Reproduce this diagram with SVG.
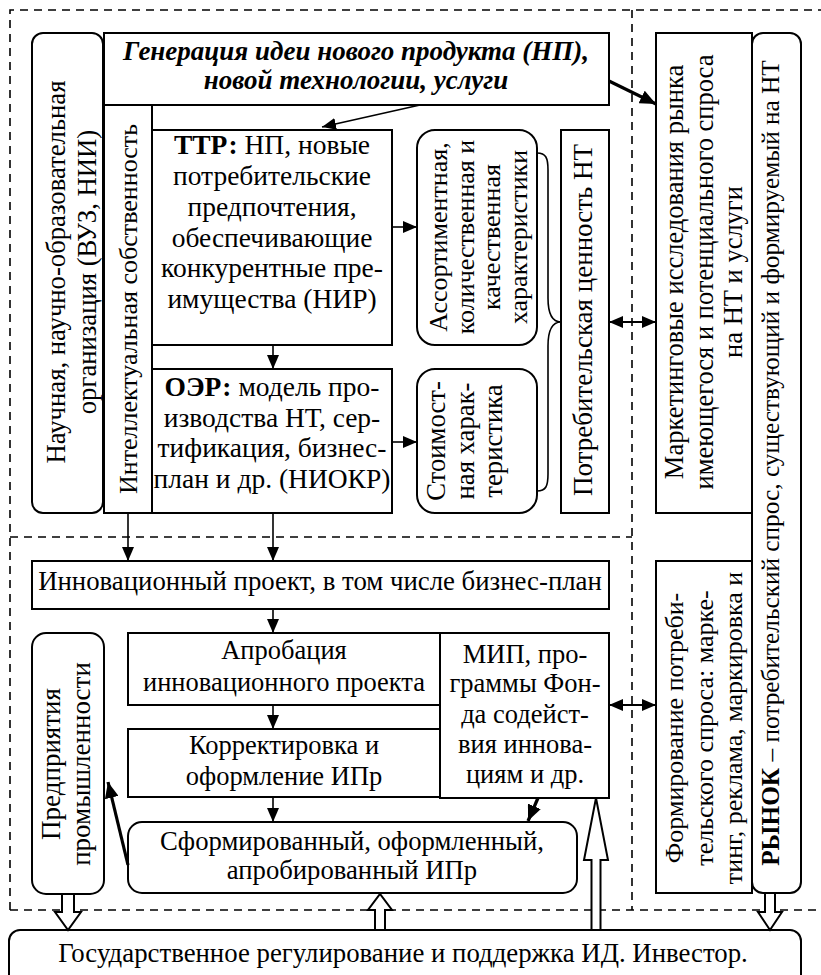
<svg xmlns="http://www.w3.org/2000/svg" width="821" height="975" viewBox="0 0 821 975">
<defs>
<style>
.b{fill:#fff;stroke:#000;stroke-width:2}
.d{fill:none;stroke:#000;stroke-width:1.6;stroke-dasharray:8,6}
.c{text-anchor:middle}
.ln{stroke:#000;stroke-width:1.6;fill:none}
.th{stroke:#000;stroke-width:3.2;fill:none}
.h{fill:#fff;stroke:#000;stroke-width:2;stroke-linejoin:miter}
</style>
<marker id="a" viewBox="0 0 14 12" refX="14" refY="6" markerWidth="14" markerHeight="12" markerUnits="userSpaceOnUse" orient="auto-start-reverse"><path d="M0,0L14,6L0,12z" fill="#000"/></marker>
<marker id="ak" viewBox="0 0 16 14" refX="16" refY="7" markerWidth="16" markerHeight="14" markerUnits="userSpaceOnUse" orient="auto"><path d="M0,0L16,7L0,14z" fill="#000"/></marker>
</defs>
<rect width="821" height="975" fill="#fff"/>
<g id="frames">
<path class="d" d="M10,910V10H821"/>
<path class="d" d="M10,910H821"/>
<path class="d" d="M632,10V910"/>
<path class="d" d="M10,537H632"/>
</g>
<g font-family="Liberation Serif" font-size="26.7" fill="#000">
<g id="n-nauch"><rect class="b" x="32" y="33" width="71" height="480" rx="11"/>
<text class="c" font-family="Liberation Serif" transform="translate(65,272) rotate(-90)"><tspan x="0" y="0">Научная, научно-образовательная</tspan><tspan x="0" y="31">организация (ВУЗ, НИИ)</tspan></text></g>
<g id="n-gen"><rect class="b" x="104" y="33" width="505" height="72"/>
<text class="c" font-family="Liberation Serif" font-weight="bold" font-style="italic" font-size="27" x="356" y="60">Генерация идеи нового продукта (НП),</text>
<text class="c" font-family="Liberation Serif" font-weight="bold" font-style="italic" font-size="27" x="356" y="89">новой технологии, услуги</text></g>
<g id="n-intel"><rect class="b" x="104" y="105" width="48" height="408"/>
<text class="c" font-family="Liberation Serif" font-size="26" transform="translate(137,309) rotate(-90)">Интеллектуальная собственность</text></g>
<g id="n-ttr"><rect class="b" x="152" y="130" width="240" height="215"/>
<text class="c" font-family="Liberation Serif" font-size="27.5"><tspan x="272" y="154"><tspan font-weight="bold">ТТР:</tspan> НП, новые</tspan><tspan x="272" y="185">потребительские</tspan><tspan x="272" y="216">предпочтения,</tspan><tspan x="272" y="247">обеспечивающие</tspan><tspan x="272" y="277">конкурентные пре-</tspan><tspan x="272" y="308">имущества (НИР)</tspan></text></g>
<g id="n-oer"><rect class="b" x="152" y="369" width="240" height="144"/>
<text class="c" font-family="Liberation Serif" font-size="27.5"><tspan x="272" y="396"><tspan font-weight="bold">ОЭР:</tspan> модель про-</tspan><tspan x="272" y="427">изводства НТ, сер-</tspan><tspan x="272" y="457">тификация, бизнес-</tspan><tspan x="272" y="488">план и др. (НИОКР)</tspan></text></g>
<g id="n-assort"><rect class="b" x="417" y="130" width="120" height="215" rx="18"/>
<text class="c" font-family="Liberation Serif" font-size="26" transform="translate(447,237) rotate(-90)"><tspan x="0" y="0">Ассортиментная,</tspan><tspan x="0" y="26.5">количественная и</tspan><tspan x="0" y="53">качественная</tspan><tspan x="0" y="79.5">характеристики</tspan></text></g>
<g id="n-stoim"><rect class="b" x="417" y="369" width="120" height="144" rx="18"/>
<text class="c" font-family="Liberation Serif" transform="translate(445,441) rotate(-90)"><tspan x="0" y="0">Стоимост-</tspan><tspan x="0" y="28.5">ная харак-</tspan><tspan x="0" y="57">теристика</tspan></text></g>
<g id="n-potreb"><rect class="b" x="561" y="130" width="48" height="383"/>
<text class="c" font-family="Liberation Serif" font-size="27" transform="translate(592,320) rotate(-90)">Потребительская ценность НТ</text></g>
<g id="n-market"><rect class="b" x="656" y="33" width="96" height="480"/>
<text class="c" font-family="Liberation Serif" font-size="26.5" transform="translate(683,272) rotate(-90)"><tspan x="0" y="0">Маркетинговые исследования рынка</tspan><tspan x="0" y="29.5">имеющегося и потенциального спроса</tspan><tspan x="0" y="59">на НТ и услуги</tspan></text></g>
<g id="n-rynok"><rect class="b" x="752" y="33" width="49" height="860" rx="11"/>
<text class="c" font-family="Liberation Serif" font-size="25.3" transform="translate(779,463) rotate(-90)"><tspan font-weight="bold">РЫНОК</tspan> – потребительский спрос, существующий и формируемый на НТ</text></g>
<g id="n-form"><rect class="b" x="656" y="561" width="96" height="332"/>
<text class="c" font-family="Liberation Serif" font-size="26" transform="translate(683,728) rotate(-90)"><tspan x="0" y="0">Формирование потреби-</tspan><tspan x="0" y="29.5">тельского спроса: марке-</tspan><tspan x="0" y="59">тинг, реклама, маркировка и</tspan></text></g>
<g id="n-innov"><rect class="b" x="32" y="561" width="577" height="48"/>
<text class="c" font-family="Liberation Serif" font-size="26.8" x="320" y="590">Инновационный проект, в том числе бизнес-план</text></g>
<g id="n-aprob"><rect class="b" x="128" y="633" width="312" height="72"/>
<text class="c" font-family="Liberation Serif" font-size="26.5"><tspan x="284" y="659">Апробация</tspan><tspan x="284" y="691">инновационного проекта</tspan></text></g>
<g id="n-korr"><rect class="b" x="128" y="729" width="312" height="68"/>
<text class="c" font-family="Liberation Serif" font-size="26.5"><tspan x="284" y="754">Корректировка и</tspan><tspan x="284" y="785">оформление ИПр</tspan></text></g>
<g id="n-mip"><rect class="b" x="440" y="633" width="169" height="165"/>
<text class="c" font-family="Liberation Serif" font-size="26.5"><tspan x="525" y="663">МИП, про-</tspan><tspan x="525" y="692">граммы Фон-</tspan><tspan x="525" y="723">да содейст-</tspan><tspan x="525" y="753">вия иннова-</tspan><tspan x="525" y="783">циям и др.</tspan></text></g>
<g id="n-sform"><rect class="b" x="128" y="822" width="449" height="71" rx="14"/>
<text class="c" font-family="Liberation Serif"><tspan x="352" y="850">Сформированный, оформленный,</tspan><tspan x="352" y="879">апробированный ИПр</tspan></text></g>
<g id="n-predpr"><rect class="b" x="32" y="633" width="72" height="261" rx="14"/>
<text class="c" font-family="Liberation Serif" font-size="27" transform="translate(60,764) rotate(-90)"><tspan x="0" y="0">Предприятия</tspan><tspan x="0" y="30">промышленности</tspan></text></g>
<g id="n-gos"><rect class="b" x="9" y="930" width="792" height="60" rx="11"/>
<text class="c" font-family="Liberation Serif" font-size="26.8" x="403" y="962">Государственное регулирование и поддержка ИД. Инвестор.</text></g>
</g>
<g id="connectors">
<path class="ln" d="M420,105L322,127" marker-end="url(#a)"/>
<path class="th" d="M609,81L656,104" marker-end="url(#ak)"/>
<path class="ln" d="M392,227H417" marker-end="url(#a)"/>
<path class="ln" d="M392,442H417" marker-end="url(#a)"/>
<path class="ln" d="M273,345V369" marker-end="url(#a)"/>
<path class="ln" d="M128,513V561" marker-end="url(#a)"/>
<path class="ln" d="M273,513V561" marker-end="url(#a)"/>
<path class="ln" d="M273,609V633" marker-end="url(#a)"/>
<path class="ln" d="M273,705V729" marker-end="url(#a)"/>
<path class="ln" d="M273,797V822" marker-end="url(#a)"/>
<path class="ln" style="stroke-width:2.2" d="M609,322H656" marker-start="url(#a)" marker-end="url(#a)"/>
<path class="ln" style="stroke-width:2.2" d="M609,705H656" marker-start="url(#a)" marker-end="url(#a)"/>
<path class="th" d="M128,865L108,782" marker-end="url(#ak)"/>
<path class="th" d="M538,798L528,821" marker-end="url(#ak)"/>
<path class="ln" d="M537,153C546,153 548,158 548,170V298C548,314 552,322 561,322C552,322 548,330 548,346V474C548,486 546,491 537,491"/>
<path class="h" d="M62,894V912H55L68,930L81,912H74V894z"/>
<path class="h" d="M375,930V910H368L380,894L392,910H385V930z"/>
<path class="h" d="M591.5,930V860H584L596,798L608,860H600.5V930z"/>
<path class="h" d="M765,893V912H758L770,930L782,912H775V893z"/>
</g>
</svg>
